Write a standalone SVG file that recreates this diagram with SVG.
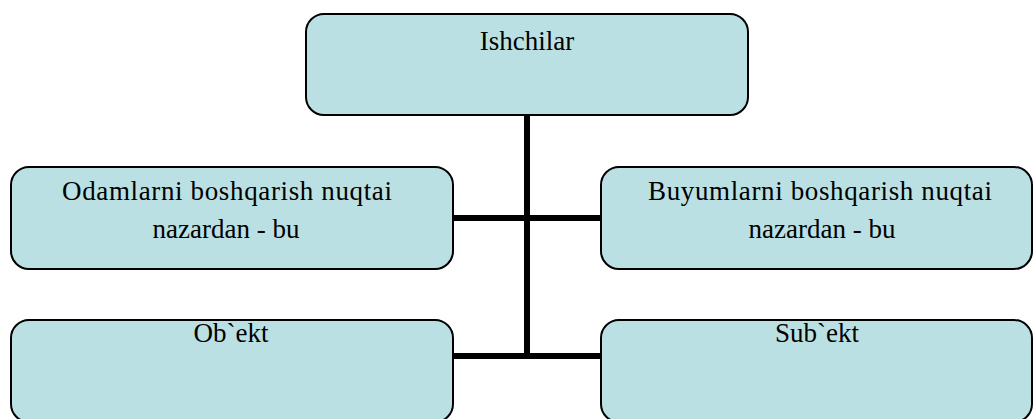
<svg xmlns="http://www.w3.org/2000/svg" width="1033" height="419" viewBox="0 0 1033 419">
  <style>
    .box { fill: #bbe0e3; stroke: #000; stroke-width: 2; }
    .lbl { font-family: "Liberation Serif", "Times New Roman", serif; font-size: 27px; fill: #000; text-anchor: middle; }
    .conn { stroke: #000; stroke-width: 6; fill: none; }
  </style>
  <rect width="1033" height="419" fill="#fff"/>
  <g id="connectors">
    <line class="conn" x1="527" y1="115" x2="527" y2="359"/>
    <line class="conn" x1="453" y1="218" x2="601" y2="218"/>
    <line class="conn" x1="453" y1="356" x2="601" y2="356"/>
  </g>
  <g id="node-ishchilar">
    <rect class="box" x="306" y="14" width="442" height="101" rx="18"/>
    <text class="lbl" x="527" y="50">Ishchilar</text>
  </g>
  <g id="node-odamlar">
    <rect class="box" x="11" y="167" width="442" height="102" rx="18"/>
    <text class="lbl" x="227" y="200" textLength="330" lengthAdjust="spacing">Odamlarni boshqarish nuqtai</text>
    <text class="lbl" x="226" y="238">nazardan - bu</text>
  </g>
  <g id="node-buyumlar">
    <rect class="box" x="601" y="167" width="431" height="102" rx="18"/>
    <text class="lbl" x="820" y="200" textLength="344" lengthAdjust="spacing">Buyumlarni boshqarish nuqtai</text>
    <text class="lbl" x="822" y="238">nazardan - bu</text>
  </g>
  <g id="node-obekt">
    <rect class="box" x="11" y="320" width="442" height="102" rx="18"/>
    <text class="lbl" x="231" y="342">Ob`ekt</text>
  </g>
  <g id="node-subekt">
    <rect class="box" x="601" y="320" width="431" height="102" rx="18"/>
    <text class="lbl" x="817" y="342">Sub`ekt</text>
  </g>
</svg>
